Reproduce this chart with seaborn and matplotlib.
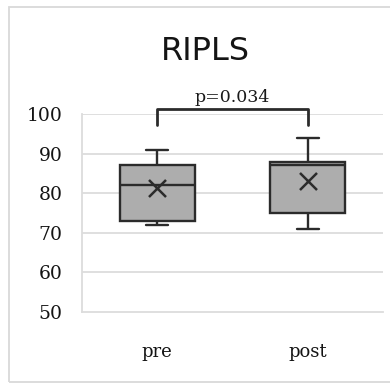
import numpy as np
import pandas as pd
import matplotlib
matplotlib.use("Agg")
import matplotlib.pyplot as plt
import seaborn as sns
from matplotlib.patches import Rectangle

# five-number summaries
groups = ["pre", "post"]
mins = [72, 71]
q1s = [73, 75]
medians = [82, 87]
q3s = [87, 88]
maxs = [91, 94]
means = [81.2, 83.2]
p_label = "p=0.034"

rows = []
for g, lo, a, m, b, hi in zip(groups, mins, q1s, medians, q3s, maxs):
    for v in (lo, a, m, b, hi):
        rows.append({"group": g, "score": v})
df = pd.DataFrame(rows)
mean_df = pd.DataFrame({"group": groups, "score": means})

sns.set_style("white")
fig = plt.figure(figsize=(3.9, 3.83), dpi=100)
ax = fig.add_axes([82 / 390, 1 - 312 / 383, (383 - 82) / 390, (312 - 114) / 383])

edge = "#2b2b2b"
sns.boxplot(data=df, x="group", y="score", order=groups, whis=(0, 100),
            width=0.5, color="#adadad", linewidth=1.7, linecolor=edge,
            fill=True, showfliers=False, ax=ax,
            boxprops=dict(facecolor="#adadad", edgecolor=edge),
            capprops=dict(color=edge), whiskerprops=dict(color=edge),
            medianprops=dict(color=edge))
# narrower caps, like the reference
for cont in ax.containers:
    for cap in cont.caps:
        xd = cap.get_xdata()
        c = (xd[0] + xd[1]) / 2
        cap.set_xdata([c - 0.073, c + 0.073])
sns.scatterplot(data=mean_df, x="group", y="score", marker="x", s=150,
                color=edge, linewidth=1.8, ax=ax, zorder=5, legend=False)

ax.set_ylim(50, 100)
ax.set_xlim(-0.5, 1.5)
ax.set_yticks([50, 60, 70, 80, 90, 100])
for y in [60, 70, 80, 90, 100]:
    ax.axhline(y, color="#dcdcdc", lw=1.3, zorder=0)
for s in ["top", "right"]:
    ax.spines[s].set_visible(False)
ax.spines["left"].set_color("#dcdcdc")
ax.spines["bottom"].set_color("#dcdcdc")
ax.spines["left"].set_linewidth(1.3)
ax.spines["bottom"].set_linewidth(1.3)
ax.tick_params(length=0)
ax.tick_params(axis="x", pad=22)
ax.tick_params(axis="y", pad=14)
ax.set_xlabel("")
ax.set_ylabel("")
for lab in ax.get_yticklabels() + ax.get_xticklabels():
    lab.set_family("DejaVu Serif")
    lab.set_fontsize(13.5)
    lab.set_color("#141414")
for lab in ax.get_xticklabels():
    lab.set_fontsize(13)

# significance bracket
ax.plot([0, 0, 1, 1], [97.2, 101.3, 101.3, 97.2], color=edge, lw=2,
        clip_on=False, solid_joinstyle="round")
ax.text(0.5, 102.0, p_label, ha="center", va="bottom", fontsize=12.5,
        family="DejaVu Serif", color="#1a1a1a", clip_on=False)

fig.text(205 / 390, 1 - 52 / 383, "RIPLS", ha="center", va="center",
         fontsize=23, family="DejaVu Sans", color="#141414")

fig.patches.append(Rectangle((9 / 390, 1 / 383), 1, 375 / 383,
                             transform=fig.transFigure, fill=False,
                             edgecolor="#d9d9d9", lw=1.3))

fig.savefig("out.png", dpi=100)
